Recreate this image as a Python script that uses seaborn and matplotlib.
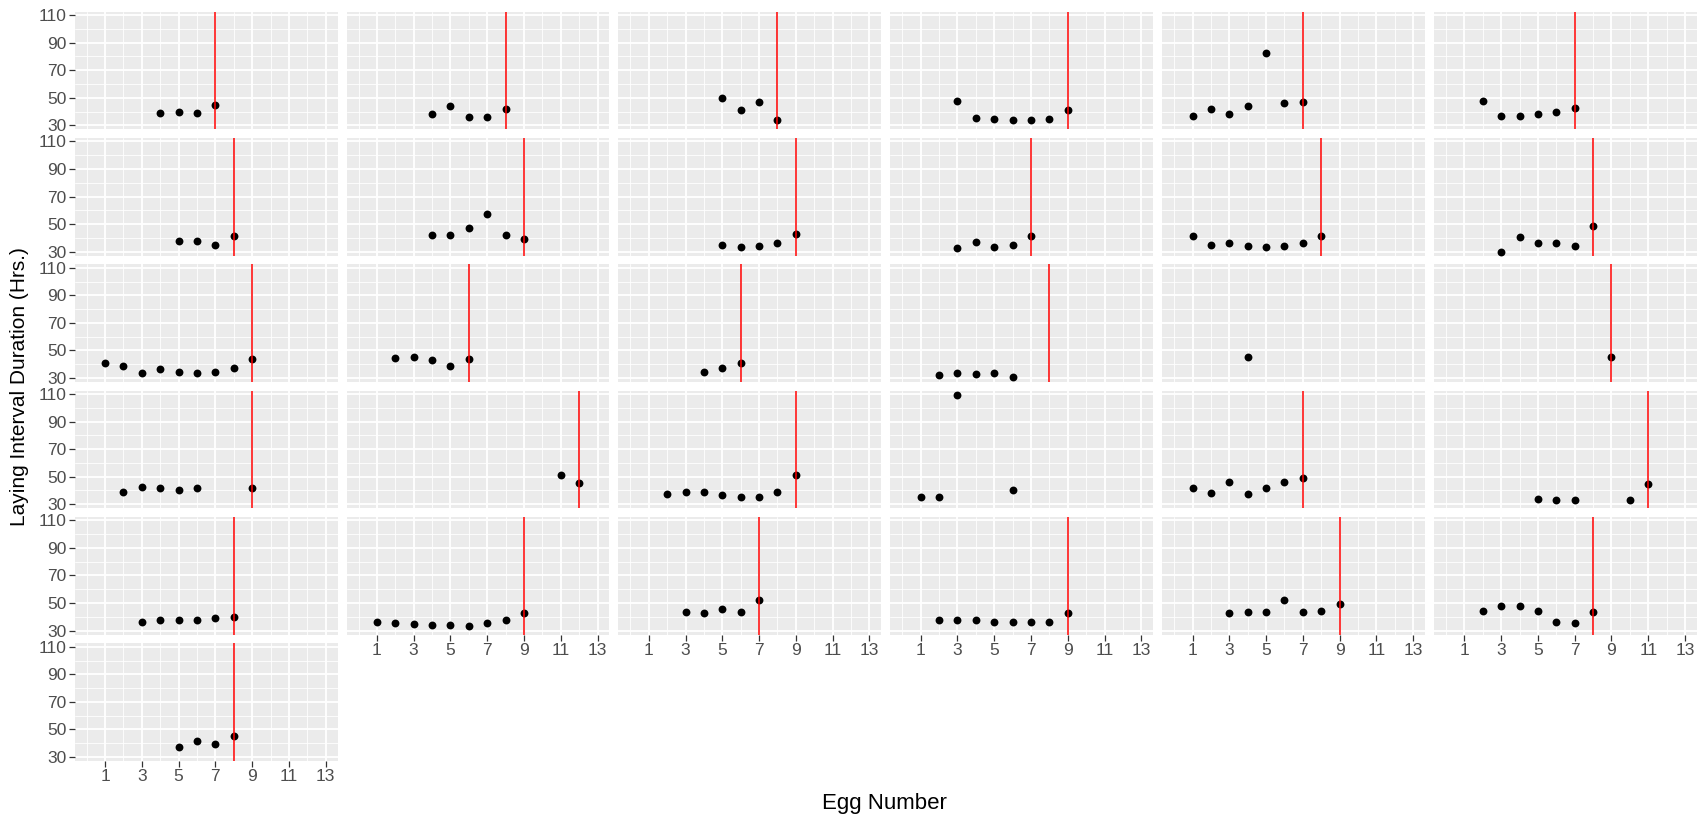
import matplotlib
matplotlib.use("Agg")
import matplotlib.pyplot as plt
import numpy as np
import pandas as pd
import seaborn as sns

# ---- data: one entry per bird (panel) ----
egg_numbers = [
    [4, 5, 6, 7], [4, 5, 6, 7, 8], [5, 6, 7, 8], [3, 4, 5, 6, 7, 8, 9],
    [1, 2, 3, 4, 5, 6, 7], [2, 3, 4, 5, 6, 7],
    [5, 6, 7, 8], [4, 5, 6, 7, 8, 9], [5, 6, 7, 8, 9], [3, 4, 5, 6, 7],
    [1, 2, 3, 4, 5, 6, 7, 8], [3, 4, 5, 6, 7, 8],
    [1, 2, 3, 4, 5, 6, 7, 8, 9], [2, 3, 4, 5, 6], [4, 5, 6], [2, 3, 4, 5, 6],
    [4], [9],
    [2, 3, 4, 5, 6, 9], [11, 12], [2, 3, 4, 5, 6, 7, 8, 9], [1, 2, 3, 6],
    [1, 2, 3, 4, 5, 6, 7], [5, 6, 7, 10, 11],
    [3, 4, 5, 6, 7, 8], [1, 2, 3, 4, 5, 6, 7, 8, 9], [3, 4, 5, 6, 7],
    [2, 3, 4, 5, 6, 7, 8, 9], [3, 4, 5, 6, 7, 8, 9], [2, 3, 4, 5, 6, 7, 8],
    [5, 6, 7, 8],
]
durations = [
    [39, 40, 39, 45], [38, 44, 36, 36, 42], [49.5, 41, 47, 34],
    [48, 35.5, 34.5, 34, 34, 34.5, 41],
    [36.5, 41.5, 38, 44, 82.5, 46, 47], [48, 36.5, 36.5, 38, 40, 42.5],
    [38, 38, 35, 41], [42, 42, 47, 57.5, 42, 39.5], [35, 33.5, 34, 36, 43],
    [32.5, 37, 33.5, 35, 41.5],
    [41.5, 35, 36, 34, 33.5, 34, 36, 41.5], [30, 40.5, 36, 36, 34, 48.5],
    [41, 39, 33.5, 36.5, 34.5, 33.5, 34.5, 37.5, 43.5],
    [44.5, 45.5, 43, 39, 43.5], [34.5, 37.5, 41], [32, 33.5, 33, 33.5, 31],
    [45.5], [45.5],
    [39, 42.5, 41.5, 40, 41.5, 41.5], [51, 45.5],
    [37.5, 39, 39, 36.5, 35.5, 35.5, 39, 51], [35, 35.5, 109.5, 40],
    [42, 38, 46.5, 37.5, 42, 46.5, 49], [33.5, 33, 33, 33, 44.5],
    [36.5, 37.5, 37.5, 37.5, 39, 40],
    [36.5, 35.5, 34.5, 34, 34, 33, 35.5, 37.5, 42.5],
    [43.5, 42.5, 45.5, 43.5, 52],
    [38, 38, 37.5, 36.5, 36.5, 36.5, 36.5, 42.5],
    [42.5, 43.5, 43.5, 52, 43.5, 44.5, 49],
    [44.5, 47.5, 48, 44.5, 36.5, 35.5, 43.5],
    [37, 41.5, 39, 45],
]
clutch_end = [7, 8, 8, 9, 7, 7,
              8, 9, 9, 7, 8, 8,
              9, 6, 6, 8, None, 9,
              9, 12, 9, None, 7, 11,
              8, 9, 7, 9, 9, 8,
              8]
x_ticks = [1, 3, 5, 7, 9, 11, 13]
y_ticks = [30, 50, 70, 90, 110]

panels = list(range(1, len(egg_numbers) + 1))
df = pd.concat(
    [pd.DataFrame({"bird": p, "egg": e, "duration": d})
     for p, e, d in zip(panels, egg_numbers, durations)],
    ignore_index=True)

sns.set_theme(style="darkgrid", rc={
    "axes.facecolor": "#EBEBEB",
    "grid.color": "white",
    "axes.edgecolor": "#EBEBEB",
})
plt.rcParams["font.family"] = ["Liberation Sans", "DejaVu Sans"]

g = sns.FacetGrid(df, col="bird", col_wrap=6, col_order=panels,
                  sharex=True, sharey=True, height=1.2, aspect=2.2,
                  despine=False)
g.map_dataframe(sns.scatterplot, x="egg", y="duration", color="black",
                s=32, linewidth=0, zorder=3)

fig = g.figure
fig.set_size_inches(17.05, 8.19)
fig.subplots_adjust(left=0.0438, right=0.9953, top=0.9857, bottom=0.0708,
                    wspace=0.034, hspace=0.073)

axes = list(g.axes.flat)
xlab_idx = {25, 26, 27, 28, 29, 30}
for i, (ax, end) in enumerate(zip(axes, clutch_end)):
    ax.set_title("")
    ax.set_xlabel("")
    ax.set_ylabel("")
    if end is not None:
        ax.axvline(end, color="red", lw=1.1, zorder=4)
    ax.set_xlim(-0.65, 13.65)
    ax.set_ylim(27.0, 112.5)
    ax.set_xticks(x_ticks)
    ax.set_xticks(np.arange(0, 13, 2), minor=True)
    ax.set_yticks(y_ticks)
    ax.set_yticks(np.arange(40, 110, 20), minor=True)
    ax.grid(which="major", color="white", lw=1.3)
    ax.grid(which="minor", color="white", lw=0.6)
    for s in ax.spines.values():
        s.set_visible(False)
    show_y = (i % 6 == 0)
    show_x = i in xlab_idx
    ax.tick_params(axis="y", which="major", left=show_y, labelleft=show_y,
                   length=4, width=0.9, color="#333333", pad=2,
                   labelsize=12.5, labelcolor="#4D4D4D")
    ax.tick_params(axis="x", which="major", bottom=show_x, labelbottom=show_x,
                   length=4, width=0.9, color="#333333", pad=2,
                   labelsize=12.5, labelcolor="#4D4D4D")
    ax.tick_params(which="minor", length=0)

fig.text(0.5185, 0.0195, "Egg Number", ha="center", va="center",
         fontsize=16, color="black")
fig.text(0.0112, 0.528, "Laying Interval Duration (Hrs.)", ha="center",
         va="center", rotation=90, fontsize=15, color="black")

fig.savefig("out.png", dpi=100)
